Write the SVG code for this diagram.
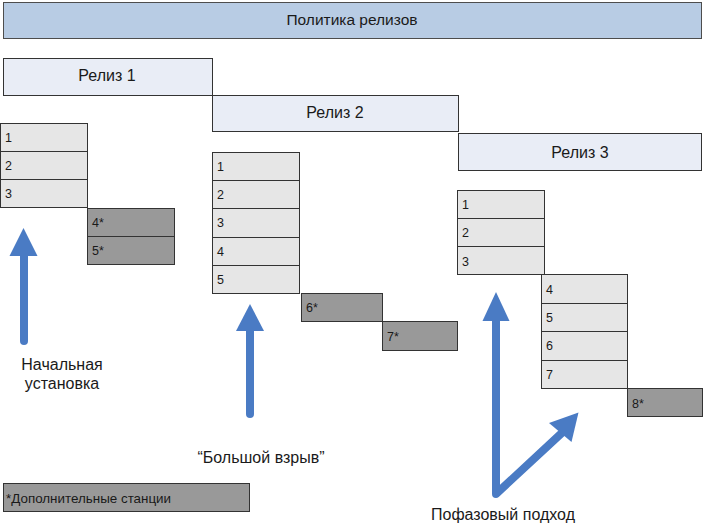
<svg xmlns="http://www.w3.org/2000/svg" width="704" height="525" viewBox="0 0 704 525">
<defs>
<style>
text{font-family:"Liberation Sans",Arial,sans-serif;fill:#1a1a1a}
.bar{fill:#b8cce4;stroke:#4d4d4d;stroke-width:1}
.rel{fill:#e9edf6;stroke:#333;stroke-width:1}
.row{fill:#e6e6e6;stroke:#333;stroke-width:1}
.ext{fill:#999999;stroke:#333;stroke-width:1}
.t16{font-size:16px}
.tt{font-size:15.5px}
.t13{font-size:13.4px}
.n{font-size:12.5px}
.arr{fill:#4a7bc4}
.sh{stroke:#4a7bc4;stroke-width:8;stroke-linecap:round;fill:none;stroke-linejoin:round}
</style>
</defs>
<g id="policy"><rect class="bar" x="3.5" y="2.5" width="698" height="36"/><text class="tt" x="352" y="25" text-anchor="middle">Политика релизов</text></g>
<g id="release1"><rect class="rel" x="3.5" y="58.5" width="209" height="37"/><text class="t16" x="107" y="81" text-anchor="middle">Релиз 1</text></g>
<g id="release2"><rect class="rel" x="212.5" y="95.5" width="246" height="36"/><text class="t16" x="335" y="118" text-anchor="middle">Релиз 2</text></g>
<g id="release3"><rect class="rel" x="458.5" y="133.5" width="243" height="37"/><text class="t16" x="580" y="158" text-anchor="middle">Релиз 3</text></g>

<g id="stack1">
<rect class="row" x="0.5" y="123.5" width="87" height="28"/><text class="n" x="5" y="142">1</text>
<rect class="row" x="0.5" y="151.5" width="87" height="28"/><text class="n" x="5" y="170">2</text>
<rect class="row" x="0.5" y="179.5" width="87" height="28"/><text class="n" x="5" y="198">3</text>
<rect class="ext" x="87.5" y="208.5" width="87" height="28"/><text class="n" x="92" y="227">4*</text>
<rect class="ext" x="87.5" y="236.5" width="87" height="28"/><text class="n" x="92" y="255">5*</text>
</g>
<g id="stack2">
<rect class="row" x="212.5" y="152.5" width="87" height="28"/><text class="n" x="217" y="171">1</text>
<rect class="row" x="212.5" y="180.5" width="87" height="28"/><text class="n" x="217" y="199">2</text>
<rect class="row" x="212.5" y="208.5" width="87" height="29"/><text class="n" x="217" y="227">3</text>
<rect class="row" x="212.5" y="237.5" width="87" height="28"/><text class="n" x="217" y="256">4</text>
<rect class="row" x="212.5" y="265.5" width="87" height="28"/><text class="n" x="217" y="284">5</text>
<rect class="ext" x="301.5" y="293.5" width="81" height="28"/><text class="n" x="306" y="312">6*</text>
<rect class="ext" x="382.5" y="321.5" width="75" height="29"/><text class="n" x="387" y="341">7*</text>
</g>
<g id="stack3">
<rect class="row" x="457.5" y="190.5" width="87" height="28"/><text class="n" x="462" y="209">1</text>
<rect class="row" x="457.5" y="218.5" width="87" height="28"/><text class="n" x="462" y="237">2</text>
<rect class="row" x="457.5" y="246.5" width="87" height="28"/><text class="n" x="462" y="266">3</text>
<rect class="row" x="541.5" y="274.5" width="86" height="29"/><text class="n" x="546" y="294">4</text>
<rect class="row" x="541.5" y="303.5" width="86" height="28"/><text class="n" x="546" y="322">5</text>
<rect class="row" x="541.5" y="331.5" width="86" height="29"/><text class="n" x="546" y="350">6</text>
<rect class="row" x="541.5" y="360.5" width="86" height="28"/><text class="n" x="546" y="379">7</text>
<rect class="ext" x="627.5" y="388.5" width="75" height="28"/><text class="n" x="632" y="408">8*</text>
</g>

<g id="connectors">
<line class="sh" x1="24" y1="341" x2="24" y2="250"/>
<polygon class="arr" points="23.5,228 37.5,256 9.5,256"/>
<line class="sh" x1="250" y1="414" x2="250" y2="325"/>
<polygon class="arr" points="250,304 264,331 236,331"/>
<polyline class="sh" points="496,315 496,494 565,430"/>
<polygon class="arr" points="496,292 509.5,321 482.5,321"/>
<polygon class="arr" points="578.5,412.5 571.5,442 549,423"/>
</g>

<g id="label-initial"><text class="t16" x="62" y="370" text-anchor="middle">Начальная</text><text class="t16" x="62" y="389" text-anchor="middle">установка</text></g>
<g id="label-bigbang"><text class="t16" x="261" y="463" text-anchor="middle">“Большой взрыв”</text></g>
<g id="label-phased"><text class="t16" x="503" y="520" text-anchor="middle">Пофазовый подход</text></g>
<g id="legend"><rect class="ext" x="3.5" y="483.5" width="246" height="28"/><text class="t13" x="6" y="503">*Дополнительные станции</text></g>
</svg>
